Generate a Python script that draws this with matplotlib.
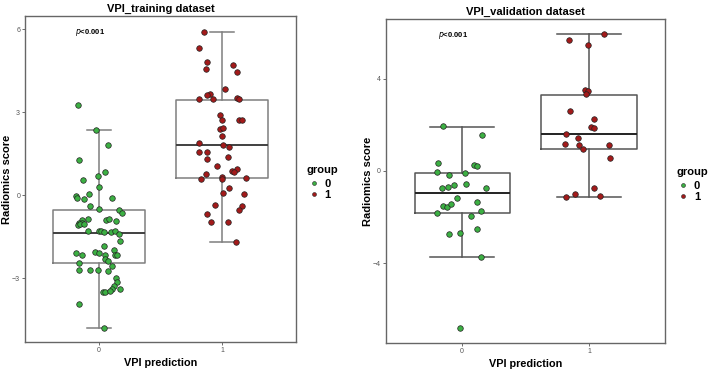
import numpy as np
import matplotlib
matplotlib.use("Agg")
import matplotlib.pyplot as plt
from matplotlib.lines import Line2D

plt.rcParams["font.family"] = ["Liberation Sans", "DejaVu Sans"]

# --- data ---
groups = ["0", "1"]
green = "#3cb043"
red = "#a31a1a"

# training dataset
train_g0 = [3.25, 2.35, 1.8, 1.25, 0.85, 0.7, 0.55, 0.3, -0.05, -0.1, 0.05, -0.15, -0.1,
            -0.4, -0.5, -0.55, -0.65, -0.85, -0.9, -1.0, -1.0, -1.1, -1.05, -1.05, -0.9,
            -0.85, -0.95, -1.3, -1.3, -1.3, -1.35, -1.35, -1.3, -1.4, -1.65, -1.85, -2.1,
            -2.15, -2.05, -2.1, -2.15, -2.3, -2.0, -2.15, -2.15, -2.4, -2.45, -2.55, -2.7,
            -2.7, -2.7, -2.75, -3.0, -3.15, -3.3, -3.4, -3.4, -3.5, -3.5, -3.45, -3.95, -4.8]
train_j0 = [-0.17, -0.02, 0.07, -0.16, 0.05, -0.01, -0.13, 0.0, -0.19, -0.18, -0.08, -0.12, 0.11,
            -0.07, 0.0, 0.16, 0.19, -0.09, -0.14, -0.16, -0.14, -0.17, -0.15, -0.12, 0.06,
            0.08, 0.14, -0.09, 0.0, 0.02, 0.04, 0.1, 0.13, 0.16, 0.17, 0.04, -0.19,
            -0.14, -0.03, 0.0, 0.05, 0.05, 0.12, 0.13, 0.15, 0.07, -0.16, 0.11, -0.16,
            -0.07, -0.01, 0.07, 0.14, 0.15, 0.12, 0.11, 0.17, 0.03, 0.05, 0.09, -0.16, 0.04]
train_g1 = [5.91, 5.32, 4.8, 4.56, 4.7, 4.44, 3.83, 3.66, 3.6, 3.46, 3.47, 3.52, 3.48, 2.89,
            2.72, 2.7, 2.71, 2.39, 2.41, 2.13, 1.87, 1.81, 1.75, 1.56, 1.56, 1.39, 1.32,
            1.05, 0.94, 0.87, 0.83, 0.77, 0.59, 0.66, 0.59, 0.62, 0.27, 0.08, 0.05, -0.36,
            -0.39, -0.54, -0.7, -0.99, -0.97, -1.69]
train_j1 = [-0.15, -0.19, -0.12, -0.13, 0.09, 0.12, 0.02, -0.1, -0.12, -0.19, -0.07, 0.12, 0.14, -0.02,
            0.0, 0.14, 0.16, -0.02, 0.01, 0.0, -0.19, 0.01, 0.06, -0.19, -0.12, 0.05, -0.12,
            -0.04, 0.12, 0.08, 0.1, -0.13, -0.17, 0.0, 0.0, 0.19, 0.06, 0.01, 0.18, -0.06,
            0.16, 0.14, -0.12, -0.09, 0.05, 0.11]
# box stats: lower whisker, Q1, median, Q3, upper whisker
train_box = [[-4.8, -2.47, -1.38, -0.54, 2.35], [-1.69, 0.60, 1.80, 3.44, 5.88]]

# validation dataset
valid_g0 = [1.93, 1.55, 0.35, -0.04, -0.17, -0.07, 0.27, 0.23, -0.72, -0.68, -0.61, -0.56, -0.75,
            -1.18, -1.53, -1.57, -1.44, -1.33, -1.83, -1.75, -1.96, -2.51, -2.73, -2.69, -3.73, -6.82]
valid_j0 = [-0.15, 0.16, -0.19, -0.2, -0.1, 0.02, 0.09, 0.12, -0.16, -0.11, -0.06, 0.03, 0.19,
            -0.04, -0.15, -0.12, -0.09, 0.12, -0.2, 0.15, 0.07, 0.12, -0.1, -0.02, 0.15, -0.02]
valid_g1 = [5.95, 5.66, 5.47, 3.49, 3.48, 3.32, 2.61, 2.24, 1.89, 1.86, 1.59, 1.44, 1.17, 1.11,
            0.97, 1.11, 0.58, -0.75, -0.98, -1.11, -1.08]
valid_j1 = [0.12, -0.16, -0.01, -0.03, -0.01, -0.02, -0.15, 0.04, 0.02, 0.04, -0.18, -0.09, -0.19, -0.08,
            -0.05, 0.16, 0.17, 0.04, -0.11, -0.18, 0.09]
valid_box = [[-3.74, -1.80, -0.97, -0.10, 1.92], [-1.13, 0.97, 1.59, 3.29, 5.95]]

fig = plt.figure(figsize=(7.09, 3.69), dpi=100)
ax1 = fig.add_axes([0.0353, 0.0732, 0.3822, 0.8834])
ax2 = fig.add_axes([0.5444, 0.0705, 0.3936, 0.878])


def panel(ax, title, box, pts, jit, ylim, yticks, capw, boxcol, medcol, legx):
    stats = []
    for b in box:
        stats.append(dict(whislo=b[0], q1=b[1], med=b[2], q3=b[3], whishi=b[4], fliers=[]))
    ax.bxp(stats, positions=[1, 2], widths=0.75, showfliers=False, patch_artist=False,
           boxprops=dict(color=boxcol, linewidth=1.1),
           whiskerprops=dict(color=boxcol, linewidth=1.1),
           capprops=dict(color=boxcol, linewidth=1.1),
           medianprops=dict(color=medcol, linewidth=1.4),
           capwidths=capw)
    for i, (vals, jj, col) in enumerate(zip(pts, jit, [green, red])):
        ax.scatter(np.array(jj) + i + 1, vals, s=16, color=col, edgecolors="#222222",
                   linewidths=0.5, zorder=3)
    ax.set_xlim(0.4, 2.6)
    ax.set_ylim(*ylim)
    ax.set_yticks(yticks)
    ax.set_xticks([1, 2])
    ax.set_xticklabels(groups)
    ax.tick_params(labelsize=5, colors="#555555", length=2, width=0.6, pad=1.5)
    for s in ax.spines.values():
        s.set_color("#666666")
        s.set_linewidth(1.0)
    ax.set_title(title, fontsize=8, fontweight="bold", pad=3)
    ax.set_xlabel("VPI prediction", fontsize=7.8, fontweight="bold", labelpad=3)
    ax.set_ylabel("Radiomics score", fontsize=8, fontweight="bold", labelpad=0)
    ax.text(0.24, 0.965, r"$\mathit{p}$" + "<0.001", transform=ax.transAxes, fontsize=5.5,
            fontweight="bold", ha="center", va="top")
    handles = [Line2D([], [], marker="o", linestyle="", markersize=2.8, markerfacecolor=c,
                      markeredgecolor="#222222", markeredgewidth=0.4) for c in [green, red]]
    leg = ax.legend(handles, groups, title="group", loc="center left",
                    bbox_to_anchor=(legx, 0.49), frameon=False, handletextpad=0.4,
                    handlelength=1.2, labelspacing=0.1, borderaxespad=0, borderpad=0,
                    alignment="left", prop=dict(size=8, weight="bold"))
    leg.get_title().set_fontsize(8)
    leg.get_title().set_fontweight("bold")
    leg._legend_box.sep = 3


panel(ax1, "VPI_training dataset", train_box, [train_g0, train_g1], [train_j0, train_j1],
      (-5.31, 6.47), [-3, 0, 3, 6], 0.19, "#7f7f7f", "#404040", 1.04)
panel(ax2, "VPI_validation dataset", valid_box, [valid_g0, valid_g1], [valid_j0, valid_j1],
      (-7.45, 6.58), [-4, 0, 4], 0.5, "#555555", "#222222", 1.04)

fig.savefig("out.png", dpi=100)
